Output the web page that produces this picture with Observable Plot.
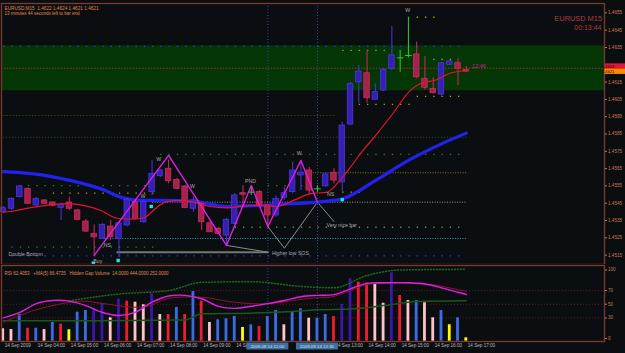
<!DOCTYPE html>
<html><head><meta charset="utf-8">
<script src="https://cdn.jsdelivr.net/npm/d3@7"></script>
<script src="https://cdn.jsdelivr.net/npm/@observablehq/plot@0.6"></script>
<style>
html,body{margin:0;padding:0;background:#0b0e11;}
#wrap{position:relative;width:625px;height:353px;overflow:hidden;background:#0b0e11;}
#wrap svg{position:absolute;left:0;display:block;}
</style></head><body><div id="wrap"></div>
<script>
// ---------- DATA ----------
const symbol = "EURUSD,M15";
const headerOHLC = "1.4622 1.4624 1.4621 1.4621";
const timerText = "13 minutes 44 seconds left to bar end";
const cornerSymbol = "EURUSD M15";
const cornerTimer = "00:13:44";
const barTimer = "12:46";
const bidPrice = 1.4621;
const askPrice = 1.4624;
const linePrice = 1.4623;

// candles, bar 0 = 14 Sep 03:00, 15-minute bars
const open  = [1.45398,1.45418,1.45485,1.45533,1.45437,1.45466,1.45454,1.45423,1.45454,1.45408,1.45344,1.45273,1.45244,1.45315,1.45244,1.45321,1.45456,1.45340,1.45514,1.45606,1.45649,1.45585,1.45547,1.45418,1.45447,1.45334,1.45302,1.45263,1.45331,1.45508,1.45514,1.45514,1.45437,1.45379,1.45481,1.45514,1.45610,1.45639,1.45533,1.45548,1.45626,1.45571,1.45905,1.46149,1.46201,1.46048,1.46101,1.46227,1.46290,1.46304,1.46310,1.46169,1.46111,1.46078,1.46250,1.46259,1.4622];
const high  = [1.45431,1.45481,1.45552,1.45537,1.45483,1.45471,1.45460,1.45448,1.45485,1.45414,1.45356,1.45325,1.45333,1.45350,1.45344,1.45477,1.45466,1.45466,1.45697,1.45645,1.45697,1.45593,1.45552,1.45485,1.45454,1.45344,1.45310,1.45362,1.45506,1.45552,1.45542,1.45523,1.45442,1.45494,1.45542,1.45687,1.45697,1.45658,1.45552,1.45627,1.45649,1.45918,1.46148,1.46246,1.46333,1.46140,1.46229,1.46471,1.46333,1.46525,1.46381,1.46298,1.46175,1.46265,1.46275,1.46285,1.4624];
const low   = [1.45390,1.45408,1.45481,1.45442,1.45431,1.45442,1.45431,1.45350,1.45408,1.45350,1.45281,1.45148,1.45240,1.45234,1.45136,1.45315,1.45356,1.45334,1.45494,1.45599,1.45562,1.45529,1.45419,1.45398,1.45292,1.45281,1.45269,1.45210,1.45327,1.45437,1.45494,1.45431,1.45315,1.45369,1.45466,1.45504,1.45523,1.45500,1.45512,1.45541,1.45562,1.45514,1.45899,1.46028,1.46028,1.46044,1.46095,1.46217,1.46207,1.46290,1.46169,1.46105,1.46082,1.46072,1.46246,1.46130,1.4621];
const close = [1.45421,1.45475,1.45547,1.45447,1.45475,1.45447,1.45435,1.45441,1.45418,1.45354,1.45286,1.45253,1.45325,1.45253,1.45334,1.45470,1.45360,1.45456,1.45620,1.45639,1.45577,1.45533,1.45423,1.45466,1.45340,1.45282,1.45273,1.45354,1.45495,1.45499,1.45514,1.45437,1.45379,1.45475,1.45508,1.45639,1.45627,1.45523,1.45533,1.45616,1.45581,1.45899,1.46140,1.46211,1.46057,1.46092,1.46221,1.46304,1.46290,1.46304,1.46178,1.46117,1.46086,1.46259,1.46269,1.46227,1.4621];

// moving averages on price (sampled at bar positions)
const slowMaBar = [0,3.7,7.8,11.8,14.5,17,19,23,27,31,35,38,40,41,45,49,53,56];
const slowMaVal = [1.45633,1.4562,1.45585,1.45533,1.45481,1.45466,1.45466,1.4546,1.45431,1.45437,1.45447,1.45456,1.45466,1.45475,1.45581,1.45697,1.45793,1.45855];
const fastMaBar = [0,0.9,3.7,7.8,9.7,11.8,13.8,15.7,17,18.6,19.6,21,23,25,27.1,29,31.1,33.1,35.1,37.1,39.2,40.7,42,43.2,45.2,47.1,49.2,50.4,52.5,54,56];
const fastMaVal = [1.45398,1.45402,1.45427,1.45447,1.45437,1.45408,1.45363,1.45358,1.45366,1.45427,1.45456,1.45466,1.45456,1.45431,1.45423,1.45433,1.45437,1.45431,1.45466,1.45504,1.45514,1.45581,1.45658,1.45736,1.45851,1.45967,1.46101,1.4614,1.46165,1.46201,1.46217];

// pattern zigzags
const zigBar   = [11,20,27,30,32,36,38];
const zigPrice = [1.45148,1.45726,1.45206,1.45552,1.45315,1.45697,1.45456];
const zig2Bar   = [32,34,38,40];
const zig2Price = [1.45315,1.45190,1.45456,1.45344];
const lowLineBar   = [27,32];
const lowLinePrice = [1.45206,1.45167];
const supportBar   = [13.8,32];
const supportPrice = [1.45167,1.45167];

// signal squares
const squareBar   = [10.9,13.9,17.9,41];
const squarePrice = [1.45103,1.45119,1.45431,1.45470];

// horizontal level rows
const levelPrice = [1.46356,1.46525,1.46333,1.46281,1.46068,1.46021,1.45957,1.45831,1.45732,1.45626,1.45552,1.45552,1.45508,1.45514,1.45456,1.45311,1.45246,1.45196,1.45146];
const levelFrom  = [0,50,41,52,50,42,0,0,19,35,2,32,6,41,18,28,12,1,1];
const levelTo    = [56,53,47,55,56,50,40,56,56,56,19,38,19,44,56,56,56,19,56];
const levelKind  = ["blueDots","yellowDots","yellowDots","yellowDots","yellowDots","yellowDots","oliveDotted","greenDotted","greenDots","yellowDotted","greenDots","greenDots","yellowDots","yellowDots","grayDotted","oliveDots","cyanDotted","greenDots","blueDots"];
const zoneTop = 1.4636, zoneBottom = 1.4610;

// annotations
const noteText  = ["Double Bottom","Buy","NS","W","W","W","PND","W","W","NS","Higher low SOS","Very nice bar"];
const noteBar   = [0.64,10.9,12.6,18.8,16.9,22.9,29.9,35.8,48.9,39.6,32.5,39.1];
const notePrice = [1.45152,1.45113,1.45206,1.45701,1.45489,1.45547,1.45577,1.45737,1.46564,1.45504,1.45163,1.45321];
const noteAnchor= ["start","start","middle","middle","middle","middle","middle","middle","middle","middle","start","start"];

// marked vertical lines (bar index) and their time stamps
const markBar  = [32,38];
const markTime = ["2009.09.14 11:00","2009.09.14 12:30"];

const priceTicks = [1.4655,1.4645,1.4635,1.4615,1.4605,1.4595,1.4585,1.4575,1.4565,1.4555,1.4545,1.4535,1.4525,1.4515];

// lower panel: RSI, its MA, hidden-gap volume histogram
const rsiHeader = "RSI 62.4053   +MA(5) 66.4735   Hidden Gap Volume  14.0000 444.0000 252.0000";
const volume = [14.2,13.1,35,15,15,13,23.4,20.9,12.7,38.4,40.9,44.2,50.7,30.2,57.4,54.5,53,49.2,65.3,35,35,45.3,35,68.6,54.5,23.4,27.3,28.8,32.1,16.1,20,17.5,32.1,40.9,20,39.4,43.4,29.6,29.6,35,32.1,49.6,87.2,82.2,80.7,78.8,51.5,95.9,62.8,55.5,55.5,52.1,30.2,40.9,20,30.2,1];
const volumeType = ["pale","pale","up","down","up","pale","up","down","gap","up","up","strong","strong","pale","strong","down","pale","pale","strong","pale","down","up","down","up","down","pale","up","up","up","gap","up","down","up","up","pale","up","up","pale","up","up","down","strong","strong","down","down","pale","pale","strong","down","pale","up","pale","pale","up","gap","up","gap"];
const rsiBar = [0,2,4,6,8,10,12,14,16,18,20,22,24,26,28,30,32,34,36,38,40,42,44,46,49,51,53,55,56];
const rsiVal = [30,38,51,55.5,54.5,48,38,33.5,38.5,53,62,63,58,47,44,47,51,55.5,61,63,64,72.5,80.5,81.3,81.3,79.5,74,67.5,64.2];
const rsiMaBar = [0,3.7,7.7,9.7,11.8,15.8,17.8,19.8,23.9,27.9,31.9,35.9,38,39.6,42,44,47.2,50.5,52.5,54.5,56];
const rsiMaVal = [23.8,40.9,52.1,54.5,51.5,45.7,48.2,58,60.3,53,50.7,56.9,59.4,60.3,70,78.8,80.7,79.9,77.4,72.6,69];
const avgBar = [0,12,22,24,30,36,38,42,46,50,56];
const avgVal = [26,26,27,36,37,40,42,43,48,54,55];
const avg2Bar = [8,14,20,24,30,36,40,44,48,56];
const avg2Val = [55,65,70,82,83,76,74,92,100,101];
const rsiTicks = [100,70,50,30,0];

const timeBar = [0,4,8,12,16,20,24,28,40,44,48,52,56];
const timeLabel = ["14 Sep 2009","14 Sep 04:00","14 Sep 05:00","14 Sep 06:00","14 Sep 07:00","14 Sep 08:00","14 Sep 09:00","14 Sep 10:00","14 Sep 13:00","14 Sep 14:00","14 Sep 15:00","14 Sep 16:00","14 Sep 17:00"];

// ---------- BUILD ----------
const FONT = "Liberation Sans, Arial, sans-serif";
const BG = "#0b0e11", FRAME = "#7a3b2e", AXIS_TXT = "#c9794f";
const xScale = {domain:[0,56], range:[2.7,465.8], axis:null};
const barW = (465.8-2.7)/56;
const candles = open.map((o,i)=>({i,o,h:high[i],l:low[i],c:close[i],dir: Math.abs(close[i]-o)<0.00002?"doji":(close[i]>o?"up":"down")}));
const candleFill = {up:"#3620b0", down:"#a4224e", doji:"#2fbf2f"};
const candleLine = {up:"#4a36e6", down:"#d02a5c", doji:"#2fcf2f"};
const levelStyle = {
  blueDots:{stroke:"#2a3cff", dash:`1.3,${barW-1.3}`, w:1.3},
  yellowDots:{stroke:"#b7a21e", dash:`1.3,${barW-1.3}`, w:1.3},
  greenDots:{stroke:"#1f8f1f", dash:`1.3,${barW-1.3}`, w:1.3},
  oliveDots:{stroke:"#7f8a1a", dash:`1.3,${barW-1.3}`, w:1.3},
  greenDotted:{stroke:"#1d5e1d", dash:"1,2", w:1},
  oliveDotted:{stroke:"#4f5a18", dash:"1,2.2", w:1},
  yellowDotted:{stroke:"#8a7a18", dash:"1,1.5", w:1},
  grayDotted:{stroke:"#9a9a9a", dash:"1,1.5", w:1},
  cyanDotted:{stroke:"#1aa8b8", dash:"1,1.5", w:1}
};
const levels = levelPrice.map((p,k)=>({p,a:levelFrom[k],b:levelTo[k],kind:levelKind[k]}));
const pts = (bx,vy)=>bx.map((x,k)=>({x,y:vy[k]}));
const notes = noteText.map((t,k)=>({t,x:noteBar[k],y:notePrice[k],a:noteAnchor[k]}));

const main = Plot.plot({
  width:625, height:265,
  marginTop:3, marginLeft:1, marginRight:21, marginBottom:1,
  style:{background:BG, fontFamily:FONT, overflow:"visible"},
  x: xScale,
  y: {domain:[1.4635,1.4515], range:[47,254.6], axis:null},
  marks:[
    Plot.rect([{t:zoneTop,b:zoneBottom}],{y1:"t",y2:"b",fill:"#053606"}),
    Plot.ruleY([linePrice],{stroke:"#9c2f2f",strokeDasharray:"1.5,1.5"}),
    ...Object.keys(levelStyle).map(k=>Plot.link(levels.filter(d=>d.kind===k),{x1:"a",x2:"b",y1:"p",y2:"p",stroke:levelStyle[k].stroke,strokeWidth:levelStyle[k].w,strokeDasharray:levelStyle[k].dash})),
    Plot.ruleX(markBar,{stroke:"#2a4a9a",strokeDasharray:"1,2"}),
    Plot.line(pts(supportBar,supportPrice),{x:"x",y:"y",stroke:"#77776a",strokeWidth:2}),
    Plot.line(pts(lowLineBar,lowLinePrice),{x:"x",y:"y",stroke:"#8a8a8a",strokeWidth:1}),
    Plot.line(pts(zig2Bar,zig2Price),{x:"x",y:"y",stroke:"#8c8c8c",strokeWidth:1}),
    Plot.line(pts(slowMaBar,slowMaVal),{x:"x",y:"y",stroke:"#2222f0",strokeWidth:3.2,curve:"monotone-x"}),
    Plot.ruleX(candles,{x:"i",y1:"l",y2:"h",stroke:d=>candleLine[d.dir],strokeWidth:1}),
    Plot.rect(candles.filter(d=>d.dir!=="doji"),{x1:d=>d.i-0.33,x2:d=>d.i+0.33,y1:"o",y2:"c",fill:d=>candleFill[d.dir],stroke:d=>candleLine[d.dir],strokeWidth:0.8}),
    Plot.link(candles.filter(d=>d.dir==="doji"),{x1:d=>d.i-0.4,x2:d=>d.i+0.4,y1:"o",y2:"o",stroke:"#2fcf2f",strokeWidth:1}),
    Plot.line(pts(fastMaBar,fastMaVal),{x:"x",y:"y",stroke:"#e8132c",strokeWidth:1.2,curve:"monotone-x"}),
    Plot.line(pts(zigBar,zigPrice),{x:"x",y:"y",stroke:"#e020e0",strokeWidth:1.4}),
    Plot.dot(pts(squareBar,squarePrice),{x:"x",y:"y",symbol:"square",r:1.9,fill:"#1ee8e8",stroke:"none"}),
    Plot.text(notes.filter(d=>d.a==="start"),{x:"x",y:"y",text:"t",textAnchor:"start",fill:"#a8a8a8",fontSize:5.2}),
    Plot.text(notes.filter(d=>d.a==="middle"),{x:"x",y:"y",text:"t",textAnchor:"middle",fill:"#a8a8a8",fontSize:5.2}),
    Plot.text([barTimer],{x:()=>56.7,y:()=>1.4624,text:d=>d,textAnchor:"start",fill:"#d0208a",fontSize:5.5}),
    Plot.frame({stroke:FRAME,strokeWidth:1.3}),
    Plot.axisY({anchor:"right",ticks:priceTicks,tickFormat:d=>d.toFixed(4),tickSize:2,tickPadding:1.5,fontSize:4.6,color:AXIS_TXT,stroke:AXIS_TXT,label:null}),
    Plot.text([`${symbol}  ${headerOHLC}`],{frameAnchor:"top-left",dx:3,dy:3,text:d=>d,fill:"#e0874f",fontSize:4.7}),
    Plot.text([timerText],{frameAnchor:"top-left",dx:3,dy:8.7,text:d=>d,fill:"#e0874f",fontSize:4.5}),
    Plot.text([cornerSymbol],{frameAnchor:"top-right",dx:-2.5,dy:12,text:d=>d,fill:"#b03b3b",fontSize:7.4,textAnchor:"end"}),
    Plot.text([cornerTimer],{frameAnchor:"top-right",dx:-3,dy:21.5,text:d=>d,fill:"#b03b3b",fontSize:7,textAnchor:"end"})
  ]
});

const volColor = {pale:"#ffc4c8", up:"#3b6ce4", down:"#ee1c2e", strong:"#3a18a8", gap:"#ffff00"};
const sub = Plot.plot({
  width:625, height:88,
  marginTop:1, marginLeft:1, marginRight:21, marginBottom:11,
  style:{background:BG, fontFamily:FONT, overflow:"visible"},
  x: xScale,
  y: {domain:[0,100], range:[74,5.5], axis:null},
  marks:[
    Plot.ruleY([70,50,30],{stroke:"#5c1c1c",strokeDasharray:"1,2"}),
    Plot.ruleX(markBar,{stroke:"#2a4a9a",strokeDasharray:"1,2"}),
    Plot.rect(volume.map((v,i)=>({i,v,t:volumeType[i]})),{x1:d=>d.i-0.17,x2:d=>d.i+0.17,y1:-4,y2:"v",fill:d=>volColor[d.t]}),
    Plot.line(pts(avg2Bar,avg2Val),{x:"x",y:"y",stroke:"#1a6a1a",strokeDasharray:"1,2",curve:"monotone-x"}),
    Plot.line(pts(avgBar,avgVal),{x:"x",y:"y",stroke:"#175a17",curve:"monotone-x"}),
    Plot.line(pts(rsiMaBar,rsiMaVal),{x:"x",y:"y",stroke:"#8a1530",strokeWidth:1,curve:"catmull-rom"}),
    Plot.line(pts(rsiBar,rsiVal),{x:"x",y:"y",stroke:"#e021e0",strokeWidth:1.4,curve:"catmull-rom"}),
    Plot.frame({stroke:FRAME,strokeWidth:1.3}),
    Plot.axisY({anchor:"right",ticks:rsiTicks,tickSize:2,tickPadding:1.5,fontSize:4.6,color:AXIS_TXT,stroke:AXIS_TXT,label:null}),
    Plot.text([rsiHeader],{frameAnchor:"top-left",dx:3,dy:6,text:d=>d,fill:"#e0874f",fontSize:4.5}),
    Plot.text(timeLabel.map((t,k)=>({t,x:timeBar[k]})),{x:"x",frameAnchor:"bottom",dy:5,dx:1.5,text:"t",textAnchor:"start",fill:"#b8b8b8",fontSize:4.6})
  ]
});

const wrap = document.getElementById("wrap");
main.style.top = "0px"; sub.style.top = "264px";
wrap.appendChild(main); wrap.appendChild(sub);

// price boxes on the right axis
const ySc = main.scale("y");
const svgM = d3.select(main);
[[askPrice,"#e0163a"],[bidPrice,"#ff8a00"]].forEach(([p,c])=>{
  const y = ySc.apply(p);
  const g = svgM.append("g");
  g.append("rect").attr("x",604.5).attr("y",y-2.7).attr("width",21).attr("height",5.4).attr("fill",c);
  g.append("text").attr("x",608).attr("y",y).attr("dy","0.35em").attr("font-size",4.2).attr("font-family",FONT).attr("fill","#1a0a00").text(p.toFixed(4));
});
// time stamp boxes of the marked vertical lines
const xSc = sub.scale("x");
const svgS = d3.select(sub);
markBar.forEach((b,k)=>{
  const x = xSc.apply(b);
  svgS.append("rect").attr("x",x-21).attr("y",78.5).attr("width",42).attr("height",7).attr("fill","#3e6f9e");
  svgS.append("text").attr("x",x).attr("y",82).attr("dy","0.35em").attr("text-anchor","middle").attr("font-size",4.4).attr("font-family",FONT).attr("fill","#d8e4f0").text(markTime[k]);
});
</script></body></html>
